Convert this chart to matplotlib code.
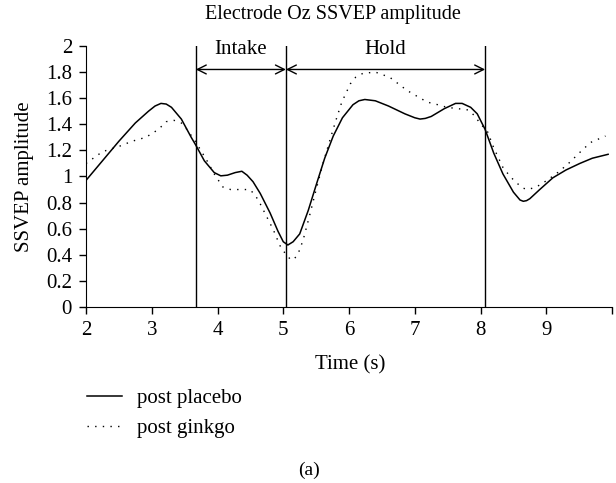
import matplotlib.pyplot as plt

plt.rcParams.update({
    "font.family": "serif",
    "font.serif": ["Liberation Serif", "DejaVu Serif"],
    "font.size": 15,
})

# post placebo (solid line)
placebo_t = [2.0, 2.25, 2.5, 2.75, 2.95, 3.05, 3.14, 3.22, 3.3, 3.45, 3.6, 3.67, 3.8, 3.95,
             4.05, 4.15, 4.27, 4.37, 4.45, 4.54, 4.65, 4.8, 4.92, 5.0, 5.07, 5.15, 5.25,
             5.38, 5.51, 5.63, 5.76, 5.9, 6.06, 6.15, 6.24, 6.4, 6.6, 6.85, 7.0, 7.08,
             7.16, 7.25, 7.45, 7.62, 7.72, 7.85, 7.95, 8.07, 8.2, 8.34, 8.5, 8.6, 8.65,
             8.7, 8.75, 8.9, 9.1, 9.3, 9.51, 9.7, 9.94]
placebo_v = [0.97, 1.12, 1.27, 1.41, 1.50, 1.54, 1.56, 1.555, 1.53, 1.44, 1.30, 1.24, 1.12, 1.03,
             1.005, 1.01, 1.03, 1.04, 1.01, 0.96, 0.87, 0.72, 0.58, 0.50, 0.475, 0.50, 0.56,
             0.74, 0.95, 1.14, 1.31, 1.45, 1.55, 1.58, 1.59, 1.58, 1.54, 1.48, 1.45, 1.44,
             1.445, 1.46, 1.52, 1.56, 1.56, 1.53, 1.48, 1.36, 1.18, 1.02, 0.88, 0.82, 0.81,
             0.815, 0.83, 0.90, 0.99, 1.05, 1.10, 1.14, 1.17]

# post ginkgo (dotted line)
ginkgo_t = [2.0, 2.25, 2.5, 2.7, 2.91, 3.1, 3.22, 3.34, 3.45, 3.52, 3.65, 3.83, 3.95, 4.08,
            4.2, 4.3, 4.49, 4.57, 4.65, 4.75, 4.85, 4.95, 5.03, 5.1, 5.15, 5.22, 5.3, 5.4,
            5.51, 5.61, 5.71, 5.8, 5.89, 6.02, 6.1, 6.21, 6.4, 6.62, 6.75, 6.88, 7.05,
            7.19, 7.35, 7.49, 7.65, 7.81, 7.9, 7.99, 8.11, 8.2, 8.34, 8.45, 8.55, 8.65,
            8.72, 8.85, 9.01, 9.2, 9.36, 9.5, 9.67, 9.9]
ginkgo_v = [1.10, 1.19, 1.23, 1.27, 1.30, 1.36, 1.42, 1.43, 1.41, 1.37, 1.28, 1.13, 1.02, 0.92,
            0.90, 0.90, 0.90, 0.86, 0.79, 0.69, 0.59, 0.47, 0.41, 0.37, 0.36, 0.40, 0.51, 0.70,
            0.92, 1.11, 1.28, 1.43, 1.57, 1.71, 1.76, 1.79, 1.80, 1.76, 1.71, 1.66, 1.61,
            1.57, 1.55, 1.53, 1.52, 1.51, 1.47, 1.41, 1.34, 1.22, 1.07, 1.00, 0.95, 0.91,
            0.90, 0.92, 0.97, 1.04, 1.11, 1.18, 1.26, 1.31]

phase_edges = [3.67, 5.04, 8.07]
phase_names = ["Intake", "Hold"]
x_ticks = [2, 3, 4, 5, 6, 7, 8, 9, 10]
x_labels = ["2", "3", "4", "5", "6", "7", "8", "9", ""]
y_ticks = [0, 0.2, 0.4, 0.6, 0.8, 1, 1.2, 1.4, 1.6, 1.8, 2]

fig = plt.figure(figsize=(6.16, 4.83), dpi=100)
ax = fig.add_axes([0.1396, 0.3644, 0.854, 0.5404])

ax.plot(placebo_t, placebo_v, color="black", linewidth=1.1, solid_joinstyle="round",
        label="post placebo")
ax.plot(ginkgo_t, ginkgo_v, color="black", linewidth=1.0, linestyle=(0, (1, 4.5)),
        label="post ginkgo")

# phase boundaries with double arrows
for xe in phase_edges:
    ax.plot([xe, xe], [0, 2], color="black", linewidth=1.0)
for i, name in enumerate(phase_names):
    a, b = phase_edges[i], phase_edges[i + 1]
    ax.annotate("", xy=(a, 1.82), xytext=(b, 1.82),
                arrowprops=dict(arrowstyle="<->", linewidth=1.0, color="black",
                                shrinkA=0, shrinkB=0, mutation_scale=16))
    ax.text((a + b) / 2, 1.97, name, ha="center", va="center", fontsize=15)

ax.set_xlim(2, 10)
ax.set_ylim(0, 2)
ax.set_xticks(x_ticks)
ax.set_xticklabels(x_labels)
ax.set_yticks(y_ticks)
ax.set_yticklabels([f"{v:g}" for v in y_ticks])
ax.spines["top"].set_visible(False)
ax.spines["right"].set_visible(False)
ax.tick_params(direction="out", length=5, width=1, labelsize=15, pad=5)
ax.set_xlabel("Time (s)", fontsize=15)
ax.xaxis.set_label_coords(0.502, -0.185)
ax.set_ylabel("SSVEP amplitude", fontsize=15)
ax.yaxis.set_label_coords(-0.098, 0.5)

fig.text(333 / 616, 1 - 15 / 483, "Electrode Oz SSVEP amplitude", ha="center", va="center",
         fontsize=14.5)

ax.legend(loc="upper left", bbox_to_anchor=(0.141, 0.196), bbox_transform=fig.transFigure,
          frameon=False, fontsize=15, handlelength=1.7, handletextpad=0.7,
          labelspacing=0.5, borderpad=0, borderaxespad=0)

fig.text(0.502, 1 - 470 / 483, "(a)", ha="center", va="center", fontsize=14)

plt.savefig("out.png", dpi=100)
